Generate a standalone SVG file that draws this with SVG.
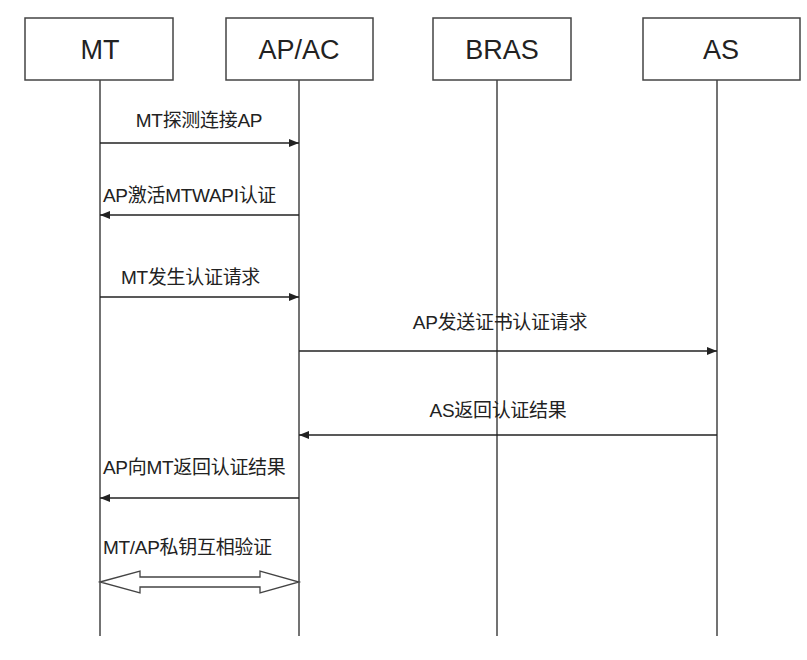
<svg xmlns="http://www.w3.org/2000/svg" width="807" height="660" viewBox="0 0 807 660">
<style>
.box{fill:#fff;stroke:#444;stroke-width:1.5}
.life{stroke:#444;stroke-width:1.5}
.msg{stroke:#222;stroke-width:1.3;fill:none}
.t{font-family:"Liberation Sans","Noto Sans CJK SC",sans-serif;fill:#222}
.h{font-size:27px}
.l{font-size:19px;letter-spacing:-0.3px}
</style>
<defs>
<marker id="ah" markerWidth="10" markerHeight="8" refX="10" refY="4" orient="auto" markerUnits="userSpaceOnUse">
<path d="M0,0 L10,4 L0,8 Z" fill="#222"/>
</marker>
</defs>
<rect width="807" height="660" fill="#fff"/>
<g id="MT"><rect class="box" x="25" y="18" width="148" height="62"/><line class="life" x1="100" y1="80" x2="100" y2="636"/><text class="t h" x="100" y="59" text-anchor="middle">MT</text></g>
<g id="APAC"><rect class="box" x="226" y="18" width="147" height="62"/><line class="life" x1="299" y1="80" x2="299" y2="636"/><text class="t h" x="299" y="59" text-anchor="middle">AP/AC</text></g>
<g id="BRAS"><rect class="box" x="433" y="18" width="138" height="62"/><line class="life" x1="497" y1="80" x2="497" y2="636"/><text class="t h" x="502" y="59" text-anchor="middle">BRAS</text></g>
<g id="AS"><rect class="box" x="643" y="18" width="157" height="62"/><line class="life" x1="717" y1="80" x2="717" y2="636"/><text class="t h" x="721" y="59" text-anchor="middle">AS</text></g>
<g id="connectors">
<line class="msg" x1="100" y1="143" x2="299" y2="143" marker-end="url(#ah)"/>
<line class="msg" x1="299" y1="215" x2="100" y2="215" marker-end="url(#ah)"/>
<line class="msg" x1="100" y1="297" x2="299" y2="297" marker-end="url(#ah)"/>
<line class="msg" x1="299" y1="351" x2="717" y2="351" marker-end="url(#ah)"/>
<line class="msg" x1="717" y1="435" x2="299" y2="435" marker-end="url(#ah)"/>
<line class="msg" x1="299" y1="498" x2="100" y2="498" marker-end="url(#ah)"/>
<path d="M100,582 L140,571 L140,577 L260,577 L260,571 L299,582 L260,593 L260,587 L140,587 L140,593 Z" fill="#fff" stroke="#444" stroke-width="1.3"/>
</g>
<g id="labels">
<text class="t l" x="199" y="127" text-anchor="middle">MT探测连接AP</text>
<text class="t l" x="103" y="202">AP激活MTWAPI认证</text>
<text class="t l" x="121" y="284">MT发生认证请求</text>
<text class="t l" x="500" y="329" text-anchor="middle">AP发送证书认证请求</text>
<text class="t l" x="498" y="417" text-anchor="middle">AS返回认证结果</text>
<text class="t l" x="103" y="474">AP向MT返回认证结果</text>
<text class="t l" x="103" y="554">MT/AP私钥互相验证</text>
</g>
</svg>
